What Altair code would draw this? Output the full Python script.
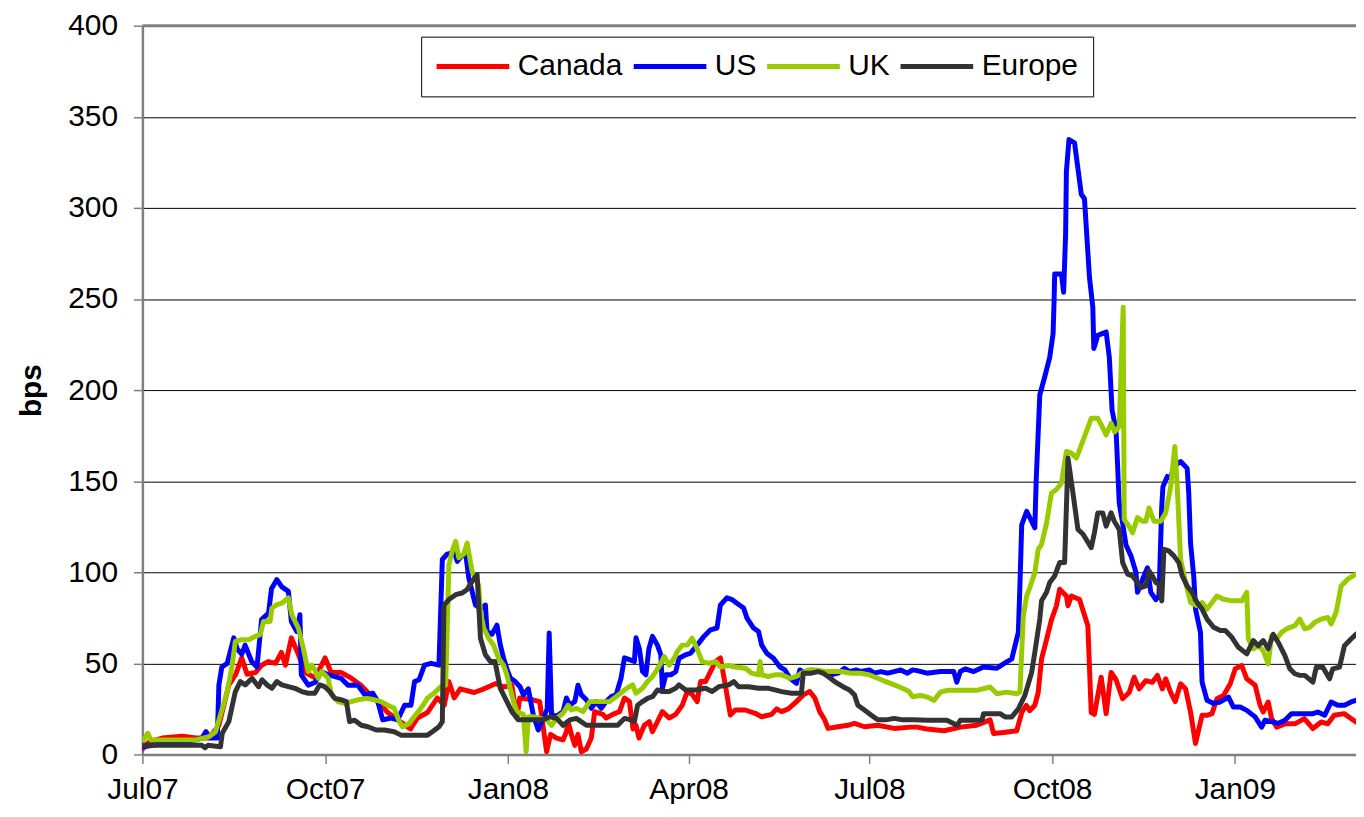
import altair as alt
import pandas as pd

BASE = pd.Timestamp("2007-07-01")
SERIES = ["Canada", "US", "UK", "Europe"]
COLORS = ["#FF0000", "#0000FF", "#99CC00", "#333333"]

canada_days = [0, 3.5, 10, 20, 27, 33.5, 38.5, 43.5, 47, 50, 52.7, 57, 60, 63.5, 67, 70, 72, 75, 78.5, 82, 87, 92, 95, 100, 105, 110, 113.5, 118.5, 123.5, 128.5, 135, 138.5, 143.5, 148.5, 152, 154.3, 157, 160, 167, 172, 178, 181.8, 186, 188.5, 190, 196.5, 200, 203.5, 205.5, 208.5, 211.8, 213.5, 214.3, 216, 217.7, 219.3, 221, 223.5, 226, 227.7, 231.8, 233.5, 236.8, 240.2, 242.7, 245.2, 247, 248.5, 250, 252.7, 255.2, 256.8, 260.2, 261.8, 265.2, 268.5, 271.8, 274.3, 276.8, 279.3, 281, 283.5, 286, 288.5, 291, 293.5, 296, 298.5, 303.5, 308.5, 311.8, 316.8, 319.3, 321.8, 325.2, 329.3, 332.7, 336, 338.5, 341, 343.5, 345.2, 350.2, 355.2, 358.5, 363.5, 370.2, 378.5, 386.8, 390, 395, 403.5, 412, 420, 426.8, 428.5, 433.5, 440.2, 442.7, 445, 446.7, 449.3, 451, 452.7, 455.2, 457.7, 460.2, 461.8, 465.2, 466, 467.7, 471.8, 476, 477.7, 479.3, 482.7, 485.2, 487.7, 490.2, 493.5, 496.8, 499.3, 501.8, 505.2, 508.5, 511, 513.5, 515.2, 517.7, 520, 522.7, 525.2, 527.7, 530.2, 533.5, 536, 538.5, 541, 544.3, 547.7, 550.2, 553.5, 556, 560.2, 562.7, 564.3, 566.8, 568.5, 571, 575.2, 580.2, 585, 589.3, 593.5, 596.8, 600, 605, 611]
canada_bps = [3, 7, 9, 10, 9, 9, 16, 38, 44, 53, 44, 45, 49, 51, 50, 56, 49, 64, 55, 45, 42, 53, 45, 45, 42, 38, 34, 29, 23, 19, 14, 20, 23, 31, 27, 40, 31, 36, 34, 36, 39, 37, 38, 20, 31, 30, 29, 1.5, 11, 9, 8, 12.5, 18, 11, 5, 11, 1.5, 3, 9, 23.5, 22, 20, 22, 23.5, 31, 29, 14, 16, 9, 16, 18, 12.5, 20, 23.5, 20, 22, 27, 34.5, 33, 29, 40, 40, 45.5, 51, 53, 38, 21.6, 24.4, 24.4, 22.6, 20.7, 22, 25, 23.5, 25, 29, 32.7, 34.5, 31, 23.5, 19, 14.3, 15.2, 16, 17, 15.2, 16, 14.3, 15, 15, 14, 13, 15, 16, 19, 11.5, 12, 13, 23, 27, 24, 27, 34, 52.5, 63, 74, 81.6, 90.7, 87, 81.6, 87, 85, 70.7, 23, 22, 42.4, 22.4, 45, 41, 30.6, 34, 42.4, 36, 40.5, 39.6, 43.4, 36, 41.5, 34, 29, 38.8, 36, 23.3, 6, 21.5, 21.5, 22.4, 30.6, 32.4, 38.8, 47, 48.8, 41.5, 38, 27, 23.3, 28.8, 19.7, 15, 16.8, 16.8, 19.7, 14.2, 17.8, 16.8, 21.5, 22.4, 17.8]

us_days = [0, 10, 20, 27, 30, 32, 34, 37.7, 38.5, 40, 42.7, 46, 47.7, 50, 51.7, 55, 57.7, 60, 63.5, 65, 67.7, 70.2, 73.5, 75, 77.7, 79.3, 80, 83.5, 87, 90, 93.5, 97, 100, 103.5, 108.5, 112, 116, 118.5, 121, 125.2, 128.5, 132, 135.2, 137, 139.3, 142, 145.3, 149.3, 151, 153.5, 157, 158.5, 160, 162.7, 164.3, 167.7, 170.2, 172.7, 173.5, 176, 178.5, 180.2, 181.8, 183.5, 185.2, 187.7, 190.2, 191.8, 194.3, 196.8, 199.3, 201.8, 203.8, 204.8, 206, 208.5, 211.8, 213.5, 215.2, 217.7, 219.3, 221, 223.5, 226, 228.5, 231, 233.5, 236, 238.5, 241, 242.7, 245.2, 247.7, 248.5, 250.2, 251.8, 253.5, 255, 256.8, 259.3, 261, 261.8, 263.5, 266, 268.5, 270.2, 273.5, 276, 279.3, 282.7, 286, 289.3, 291, 294.3, 296.8, 299.3, 302.7, 304.3, 307.7, 310.2, 311.8, 314.3, 317.7, 321, 323.5, 326, 329.3, 331, 333.5, 336.8, 340.2, 343.5, 346.8, 350.2, 353.5, 356, 359.3, 361.8, 366, 368.5, 371.8, 375.2, 378.5, 381.8, 385.2, 387.7, 390, 395, 401.8, 408.5, 410, 411.8, 414.3, 418.5, 423.5, 430.2, 433.5, 437.7, 441, 441.8, 442.7, 445.2, 449.3, 450, 451.8, 454.3, 456.8, 458.5, 459, 459.3, 462.7, 463.8, 464.8, 465.2, 466.5, 469.3, 472.7, 474.3, 476.8, 478.5, 479, 481, 485.2, 486.8, 488.2, 490.2, 491.8, 493.5, 495.2, 497.7, 500.2, 501, 503.5, 506, 507.7, 510.2, 511.8, 513.2, 513.8, 516, 517.7, 519.3, 522.7, 526, 526.8, 527.7, 529.3, 530.2, 532.7, 533.5, 536, 539.3, 542.7, 546.8, 549.3, 552.7, 556, 560.2, 563.5, 565.2, 568.5, 571.8, 575.2, 578.5, 582, 585.2, 589.3, 591.8, 595.2, 598.5, 601.8, 605.2, 608.5, 611]
us_bps = [4, 6, 7, 8, 9, 12.5, 9, 9, 38, 48, 50, 64, 58, 55, 60, 51, 48, 74, 77.6, 91, 96, 92, 89.5, 73, 67.5, 76.7, 43.7, 38, 39.6, 45.5, 43.7, 42.7, 41.8, 38, 38, 32.7, 33.6, 29, 19, 20, 19, 27, 27, 40, 41, 49, 50, 49, 107, 110, 111, 106, 108, 110.6, 97, 82, 80, 82, 67.5, 66, 71, 60, 53, 47, 42, 40, 37, 32.7, 36, 21.7, 13.4, 19.8, 25, 66.6, 21.7, 21, 23.5, 31, 27, 29, 38, 32.7, 30, 25.3, 29, 25.3, 29, 31.7, 32.7, 42, 53, 52, 51, 64, 58, 45.5, 43.7, 58, 64.8, 60, 54.7, 36.3, 43.7, 43.7, 45.5, 52.8, 54.7, 55.6, 60, 64.8, 68.4, 69.4, 82, 86, 85, 83, 80.4, 75, 69.4, 67.5, 60, 55.6, 52.8, 48, 46.4, 41.8, 39, 46.4, 44.6, 46.4, 45.5, 45.5, 43.7, 44.6, 47.3, 45.5, 46.4, 45.5, 46.4, 44.6, 45.5, 44.6, 45.5, 46.4, 44.6, 46.4, 46, 44.6, 45.5, 45.5, 39.7, 45.5, 47, 45.5, 48, 47.3, 49.7, 52.5, 67, 92.5, 126, 133.5, 124.4, 150.8, 197.3, 207.3, 218, 231, 249, 263.7, 263.7, 253.7, 285.6, 320, 337.5, 335.7, 307.5, 305, 262, 245.5, 222.8, 230, 231.9, 218, 189, 178, 138, 127, 115, 109, 100, 89, 96, 102.5, 89, 85, 87, 136, 147, 152.6, 151.7, 158, 160.8, 157, 143.5, 116, 98, 79.8, 67, 39.7, 29.7, 28, 28.8, 31.5, 26, 26, 24.2, 20.6, 15, 18.8, 18, 17, 18.8, 22.4, 22.4, 22.4, 22.4, 23.3, 21.5, 28.8, 27, 27, 28.8, 29.7]

uk_days = [0, 2.7, 4.3, 10, 20, 26.8, 33.5, 36.8, 39.3, 42.7, 45.2, 46.8, 50.2, 53.5, 56.8, 59.3, 61, 64.3, 65.2, 67.7, 70.2, 73.5, 75.2, 78.5, 81, 83.5, 85.2, 86.8, 88.5, 90.2, 93.5, 95.2, 98.5, 101.8, 105.2, 108.5, 112.7, 116.8, 120.2, 123.5, 126.8, 129.3, 131, 134.3, 136.8, 140.2, 143.5, 146.8, 150.2, 152.7, 154.3, 156, 157.7, 159.3, 161.8, 163.5, 166, 169.3, 170.2, 171.8, 174.3, 176.8, 179.3, 181.8, 183.5, 185, 186.8, 188.5, 191.8, 193.2, 194.3, 196.8, 200.2, 203.5, 206, 208.5, 211.8, 214.3, 216, 218.5, 221.8, 225.2, 228.5, 231.8, 235.2, 238.5, 242.7, 245.2, 246.8, 248.5, 251.8, 254.3, 256.8, 258.5, 261, 262.7, 265.2, 267.7, 269.3, 271.8, 274.3, 276.8, 279.3, 281.8, 285.2, 288.5, 291, 295.2, 298.5, 303.5, 306.8, 310.2, 311, 311.8, 315.2, 318.5, 321.8, 326, 329.3, 331.8, 335.2, 339.3, 343.5, 346.8, 351.8, 356.8, 361.8, 366, 370.2, 374.3, 378.5, 382.7, 386, 387.7, 391.8, 395.2, 398.5, 401.8, 405.2, 411.8, 420, 426.8, 430.2, 435.2, 440.2, 441.8, 443.5, 445.2, 446.8, 449.3, 451, 452.7, 455.2, 457.7, 460.2, 462.7, 465.2, 467.7, 470.2, 471.8, 474.3, 477.7, 481, 482.7, 485.2, 487.7, 489.5, 491.8, 493.8, 494.3, 496.8, 498.5, 501, 503.5, 505.2, 506.8, 509.3, 512.7, 515.2, 517.7, 519.8, 521, 522.7, 525.2, 527.7, 531, 533.5, 536, 538.5, 541, 544.3, 548.5, 553.5, 556, 556.8, 559.3, 561.8, 564.3, 566.8, 568.5, 571, 573.5, 576, 580.2, 582.7, 585.2, 587.7, 590.2, 593.5, 596.8, 598.5, 601, 603.5, 606.8, 611]
uk_bps = [7, 11.6, 8, 8, 8, 8, 9.7, 12.5, 21.7, 34.5, 49, 62, 63, 63, 64.8, 65.7, 73, 73, 80.4, 82.2, 83, 86, 76.7, 69.4, 58.3, 45.5, 49, 46.4, 41.8, 45.5, 41.8, 32.7, 29, 28, 29, 30, 30.8, 30, 29, 27, 25.3, 18, 15.2, 17, 20.7, 25.3, 30.8, 33.6, 37.2, 38, 104, 111.6, 117, 108, 110, 116, 100.5, 93, 78.5, 69.4, 63.8, 60, 52.8, 49, 43.7, 37, 29, 23.5, 22, 1.5, 20.7, 20.7, 19.8, 19, 16, 19.8, 22.6, 27, 24.4, 25.3, 23.5, 29, 29, 29, 29, 31.7, 35.4, 37.2, 38.2, 33.6, 36.3, 40, 42.8, 45.5, 50, 53.8, 49, 52.8, 56.5, 60, 60, 63.8, 58, 51, 50, 51, 48, 48.8, 48, 47.3, 44.6, 43.7, 51, 43.7, 42.8, 43.7, 43.7, 41.8, 42.8, 44.6, 46.4, 46.4, 45.5, 45.5, 45.5, 44.6, 44.6, 43.7, 41.8, 40, 38.2, 36.3, 34.5, 31.7, 32.4, 31.5, 29.7, 34.2, 35.2, 35.2, 35.2, 37, 33.3, 34.2, 33.3, 34.2, 76, 87, 91.6, 99.8, 112.6, 115.3, 127, 143.5, 145.4, 149, 166.3, 165.4, 162.7, 167.2, 174.5, 184.5, 184.5, 181, 175.4, 181.8, 177, 180, 245.5, 129, 125, 121.7, 130, 128, 128, 135.3, 128, 128, 132.6, 147, 169, 147, 107, 94.4, 83.4, 81.6, 83.4, 79.8, 83.4, 87, 85.2, 84.3, 84.3, 88.9, 63.4, 58, 59.7, 57, 49.7, 65.2, 63.4, 67, 68.9, 70.7, 74.3, 69, 69.8, 72.5, 74.3, 75.2, 71.6, 78, 92.5, 96.2, 99]

europe_days = [0, 15, 30, 31.5, 33, 39.3, 40.2, 43.5, 46.8, 49.3, 51.8, 55.2, 58.5, 60.2, 62.7, 65.2, 67.7, 70.2, 73.5, 76.8, 80.2, 83.5, 86.8, 89.3, 91.8, 94.3, 96.8, 100.2, 102.7, 104.3, 106.8, 110.2, 113.5, 117.7, 121.8, 126.8, 130.2, 136.8, 143.5, 146, 149.3, 151, 151.8, 154.3, 157.7, 161, 163.5, 166, 168.5, 170.2, 172.7, 175.2, 177.5, 180.2, 182.7, 186, 189.3, 193.5, 198.5, 201.8, 205.2, 208.5, 211.8, 215.2, 218.5, 223.5, 228.5, 233.5, 239.3, 242.7, 246, 247.7, 249.3, 251.8, 254.3, 256.8, 259.3, 261.8, 265.2, 268.5, 270.2, 273.5, 278.5, 283.5, 286.8, 290.2, 295.2, 297.7, 300.2, 305.2, 310.2, 315.2, 318.5, 321.8, 326.8, 331.8, 332.7, 336.8, 340.2, 342.7, 345.2, 348.5, 352.7, 356, 358.5, 360.2, 363.5, 366.8, 370.2, 374.3, 378.5, 382.7, 388.5, 395, 405, 410.2, 411.8, 422.7, 423.5, 428.5, 431.8, 434.3, 437.7, 441, 444.3, 447.7, 449.3, 451.8, 452.7, 455.2, 456.8, 459.3, 461.8, 464.3, 466, 468.5, 471, 473.5, 477.7, 479.3, 481, 483.5, 485.2, 487.7, 489.3, 491.8, 493.5, 496, 498.5, 501, 502.7, 505.2, 506.8, 508.5, 510.2, 511.8, 513.2, 514.3, 516.8, 519.3, 521.8, 523.5, 526, 528.5, 531, 533.5, 536, 539.3, 542.7, 545.2, 548.5, 551.8, 556, 559.3, 561.8, 564.3, 566.8, 569.3, 571.8, 575.2, 577.7, 580.2, 582.7, 585.2, 589.3, 591, 594.3, 597.7, 599.3, 602.7, 605.2, 608.5, 611]
europe_bps = [5, 5, 5, 3.7, 5, 4.2, 11.6, 18, 34.5, 40, 38.2, 41.8, 37.2, 41, 38.2, 36.3, 40, 38.2, 37.2, 36.3, 34.5, 33.6, 33.6, 38.2, 37.2, 34.5, 30.8, 30, 29, 18, 18.8, 16, 15.2, 13.4, 13.4, 12.5, 10.6, 10.6, 10.6, 12.5, 15.2, 18, 82, 85, 87.7, 88.6, 90.5, 95, 98.7, 63.8, 54.7, 51, 51, 36.3, 30.8, 23.5, 19, 19, 19, 19, 20.7, 19.8, 16, 19, 19.8, 16, 16, 16, 16, 19.8, 19, 18, 27, 29, 30.8, 31.7, 35.4, 34.5, 34.5, 36.3, 38.2, 35.4, 35.4, 36.3, 34.5, 37.2, 38.2, 40, 37.2, 37.2, 36.3, 36.3, 35.4, 34.5, 33.6, 33.6, 44.6, 44.6, 45.5, 44.6, 42.8, 40, 37.2, 35.4, 32.7, 27, 24.4, 21.7, 19, 19, 19.8, 19, 19, 18.8, 18.8, 16, 18.8, 18.8, 22.4, 22.4, 22.4, 20.6, 20.6, 25, 32.4, 45, 56, 74.3, 84.3, 89, 94.4, 98, 105.3, 105.3, 162.7, 143.5, 123.5, 121, 113.5, 121.7, 132.6, 132.6, 125.3, 132.6, 128, 123.5, 105.3, 99, 98, 94.4, 91.6, 92.5, 100.7, 98, 94.4, 93.5, 84.3, 112.6, 111.7, 109, 105.3, 98, 92.5, 88.9, 83.4, 79.8, 74.3, 69.8, 68, 68, 64.3, 58.8, 55.2, 62.5, 59.7, 62.5, 58, 66, 61.6, 54.3, 47, 44.3, 43.4, 43.4, 39.7, 47.9, 47.9, 41.5, 47, 47.9, 59.7, 63.4, 66]

y_ticks = [0, 50, 100, 150, 200, 250, 300, 350, 400]
x_ticks = [(2007, 7), (2007, 10), (2008, 1), (2008, 4), (2008, 7), (2008, 10), (2009, 1)]

frames = []
for name, days, vals in [("Canada", canada_days, canada_bps), ("US", us_days, us_bps),
                         ("UK", uk_days, uk_bps), ("Europe", europe_days, europe_bps)]:
    frames.append(pd.DataFrame({
        "date": BASE + pd.to_timedelta(days, unit="D"),
        "bps": vals,
        "series": name,
    }))
df = pd.concat(frames, ignore_index=True)

FONT = "Liberation Sans, Arial, sans-serif"

lines = alt.Chart(df).mark_line(strokeWidth=5, strokeJoin="round", strokeCap="round", clip=True).encode(
    x=alt.X("date:T",
            scale=alt.Scale(domain=[alt.DateTime(year=2007, month=7, date=1),
                                    alt.DateTime(year=2009, month=3, date=3)], nice=False),
            axis=alt.Axis(values=[alt.DateTime(year=y, month=m, date=1) for y, m in x_ticks],
                          format="%b%y", labelFontSize=30, labelFont=FONT, labelColor="black",
                          labelPadding=11, tickSize=9, tickColor="#808080", tickWidth=1.5,
                          domainColor="#808080", domainWidth=2.5, grid=False,
                          labelFlush=False, labelOverlap=False),
            title=None),
    y=alt.Y("bps:Q",
            scale=alt.Scale(domain=[0, 400], nice=False),
            axis=alt.Axis(values=y_ticks, labelFontSize=30, labelFont=FONT, labelColor="black",
                          labelPadding=16, tickSize=9, tickColor="#808080", tickWidth=1.5,
                          domainColor="#808080", domainWidth=2.5, grid=True,
                          gridColor="#000000", gridWidth=1,
                          titleFontSize=30, titleFont=FONT, titleFontWeight="bold",
                          titleColor="black", titleAngle=270, titleX=-111, titleY=366,
                          titleAlign="center", titleBaseline="middle"),
            title="bps"),
    color=alt.Color("series:N",
                    scale=alt.Scale(domain=SERIES, range=COLORS),
                    sort=SERIES,
                    legend=alt.Legend(orient="none", legendX=280, legendY=11,
                                      direction="horizontal", columns=4, title=None,
                                      symbolType="M-2.92,0H2.92", symbolSize=625,
                                      symbolStrokeWidth=5, symbolOffset=22,
                                      labelFontSize=30, labelFont=FONT, labelColor="black",
                                      labelOffset=30, columnPadding=0, padding=15,
                                      strokeColor="black", fillColor="white")),
)

top_border = alt.Chart(pd.DataFrame({"bps": [400]})).mark_rule(color="#808080", strokeWidth=3).encode(
    y=alt.Y("bps:Q")
)

chart = alt.layer(lines, top_border).properties(
    width=1219, height=732,
    padding={"left": 135, "top": 16, "right": 0, "bottom": 48},
    autosize=alt.AutoSizeParams(type="none"),
).configure_view(strokeWidth=0)

chart.save("out.html", embed_options={"renderer": "svg", "actions": False})
